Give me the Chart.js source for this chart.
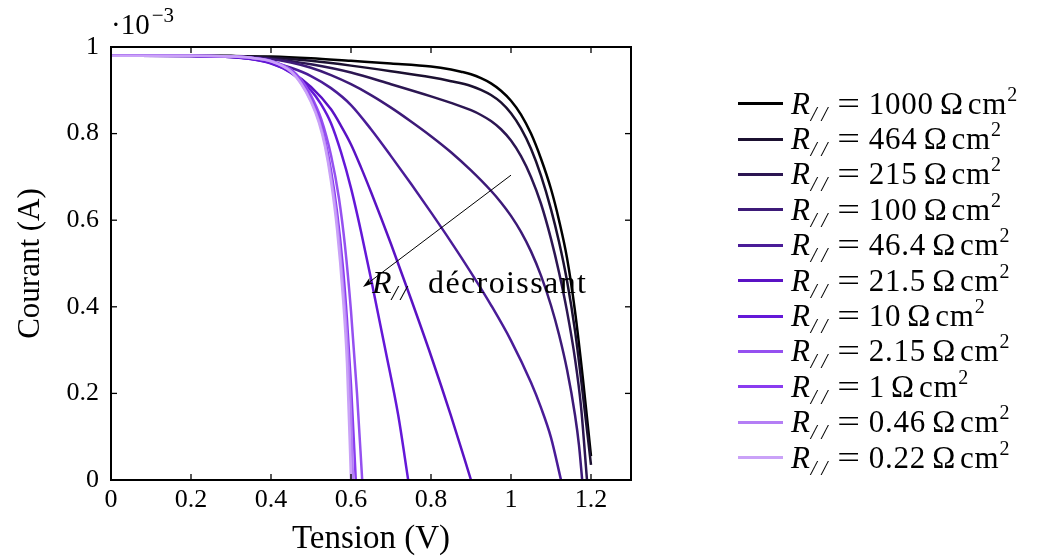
<!DOCTYPE html>
<html>
<head>
<meta charset="utf-8">
<script src="https://cdn.jsdelivr.net/npm/chart.js@4.4.1/dist/chart.umd.min.js"></script>
<style>
    html, body { margin: 0; padding: 0; background: #fff; }
    #wrap { position: relative; width: 1037px; height: 559px; overflow: hidden; }
    #chart { position: absolute; left: 0; top: 0; }
    #legend { position: absolute; left: 738px; top: 86px; font-family: "Liberation Serif", serif; font-size: 31px; color: #000; }
    .item { display: flex; align-items: center; height: 35.4px; white-space: nowrap; }
    .sw { display: inline-block; width: 45px; height: 3px; margin-right: 8px; }
    .txt { letter-spacing: 0.8px; }
    .txt sub { font-size: 21px; font-style: italic; line-height: 0; vertical-align: -7px; letter-spacing: 5px; }
    .txt sup { font-size: 20px; line-height: 0; vertical-align: 13px; }
    .eq { margin: 0 10px 0 8px; display: inline-block; transform: scaleX(1.3); }
    .u { margin: 0 4px 0 6px; }
</style>
</head>
<body>
<div id="wrap">
    <canvas id="chart" width="1037" height="559"></canvas>
    <div id="legend"></div>
</div>
<script>
// R// values (Ω cm²), one curve each
const resistanceLabels = ['1000', '464', '215', '100', '46.4', '21.5', '10', '2.15', '1', '0.46', '0.22'];
const lineColors = ['#000000', '#1b1030', '#2c1652', '#3d1a78', '#4a1c98', '#5a12c4', '#6418d8', '#9550f0', '#8a3cf0', '#b47ef5', '#caa2f8'];

// tension (V) / courant (x 1e-3 A)
const v1000 = [0, 0.2, 0.3, 0.4, 0.5, 0.6, 0.7, 0.8, 0.85, 0.875, 0.9, 0.925, 0.95, 0.975, 1.0, 1.025, 1.05, 1.075, 1.1, 1.12, 1.14, 1.16, 1.18, 1.2];
const i1000 = [0.98, 0.98, 0.979, 0.978, 0.974, 0.968, 0.962, 0.955, 0.948, 0.943, 0.937, 0.928, 0.916, 0.899, 0.876, 0.844, 0.8, 0.742, 0.672, 0.6, 0.513, 0.39, 0.232, 0.055];
const v464 = [0, 0.2, 0.3, 0.4, 0.5, 0.6, 0.7, 0.8, 0.85, 0.9, 0.925, 0.95, 0.975, 1.0, 1.025, 1.05, 1.075, 1.1, 1.12, 1.14, 1.16, 1.18, 1.2];
const i464 = [0.98, 0.98, 0.979, 0.976, 0.968, 0.957, 0.944, 0.93, 0.921, 0.91, 0.901, 0.889, 0.872, 0.847, 0.812, 0.765, 0.703, 0.625, 0.55, 0.46, 0.345, 0.195, 0.035];
const v215 = [0, 0.2, 0.3, 0.4, 0.5, 0.6, 0.7, 0.8, 0.85, 0.9, 0.925, 0.95, 0.975, 1.0, 1.025, 1.05, 1.075, 1.1, 1.12, 1.14, 1.16, 1.175, 1.19];
const i215 = [0.98, 0.98, 0.979, 0.973, 0.96, 0.941, 0.914, 0.886, 0.871, 0.854, 0.843, 0.829, 0.81, 0.784, 0.748, 0.7, 0.638, 0.557, 0.48, 0.39, 0.28, 0.17, 0];
const v100 = [0, 0.2, 0.3, 0.35, 0.4, 0.45, 0.5, 0.55, 0.6, 0.65, 0.7, 0.75, 0.8, 0.85, 0.9, 0.95, 0.975, 1.0, 1.025, 1.05, 1.075, 1.1, 1.12, 1.14, 1.16, 1.17, 1.178];
const i100 = [0.98, 0.98, 0.978, 0.976, 0.972, 0.964, 0.952, 0.935, 0.914, 0.889, 0.86, 0.828, 0.794, 0.757, 0.715, 0.668, 0.641, 0.61, 0.573, 0.528, 0.472, 0.403, 0.336, 0.255, 0.15, 0.08, 0];
const v46 = [0, 0.2, 0.3, 0.35, 0.4, 0.45, 0.5, 0.55, 0.6, 0.65, 0.7, 0.75, 0.8, 0.85, 0.9, 0.95, 1.0, 1.05, 1.075, 1.1, 1.125];
const i46 = [0.98, 0.979, 0.977, 0.973, 0.965, 0.952, 0.933, 0.905, 0.866, 0.81, 0.748, 0.684, 0.618, 0.55, 0.479, 0.404, 0.322, 0.225, 0.167, 0.098, 0];
const v21 = [0, 0.2, 0.3, 0.35, 0.4, 0.45, 0.5, 0.55, 0.575, 0.6, 0.625, 0.65, 0.7, 0.75, 0.8, 0.85, 0.9];
const i21 = [0.98, 0.979, 0.977, 0.972, 0.962, 0.942, 0.908, 0.856, 0.818, 0.775, 0.722, 0.665, 0.545, 0.418, 0.287, 0.148, 0];
const v10 = [0, 0.2, 0.3, 0.35, 0.4, 0.45, 0.5, 0.525, 0.55, 0.575, 0.6, 0.625, 0.65, 0.685, 0.718, 0.743];
const i10 = [0.98, 0.979, 0.977, 0.972, 0.963, 0.94, 0.9, 0.868, 0.824, 0.757, 0.674, 0.574, 0.465, 0.305, 0.15, 0];
const v2 = [0, 0.2, 0.3, 0.35, 0.4, 0.45, 0.475, 0.5, 0.525, 0.55, 0.57, 0.585, 0.6, 0.615, 0.628];
const i2 = [0.98, 0.98, 0.978, 0.975, 0.968, 0.948, 0.925, 0.888, 0.835, 0.75, 0.65, 0.54, 0.39, 0.2, 0];
const v1 = [0, 0.2, 0.3, 0.35, 0.4, 0.45, 0.475, 0.5, 0.52, 0.535, 0.55, 0.565, 0.58, 0.59, 0.6, 0.612];
const i1 = [0.98, 0.98, 0.978, 0.975, 0.968, 0.946, 0.92, 0.88, 0.836, 0.786, 0.715, 0.62, 0.49, 0.37, 0.22, 0];
const v046 = [0, 0.2, 0.3, 0.35, 0.4, 0.45, 0.475, 0.5, 0.52, 0.535, 0.55, 0.565, 0.58, 0.59, 0.6, 0.605];
const i046 = [0.98, 0.98, 0.978, 0.975, 0.967, 0.944, 0.917, 0.876, 0.83, 0.778, 0.7, 0.6, 0.45, 0.33, 0.15, 0];
const v022 = [0, 0.2, 0.3, 0.35, 0.4, 0.45, 0.475, 0.5, 0.52, 0.535, 0.55, 0.565, 0.58, 0.59, 0.6];
const i022 = [0.98, 0.98, 0.978, 0.975, 0.967, 0.943, 0.915, 0.873, 0.825, 0.77, 0.69, 0.58, 0.42, 0.27, 0];

const xTicks = [0, 0.2, 0.4, 0.6, 0.8, 1, 1.2];
const yTicks = [0, 0.2, 0.4, 0.6, 0.8, 1];

const seriesV = [v1000, v464, v215, v100, v46, v21, v10, v2, v1, v046, v022];
const seriesI = [i1000, i464, i215, i100, i46, i21, i10, i2, i1, i046, i022];

const serif = '"Liberation Serif", "Times New Roman", serif';
const fmt = v => String(Math.round(v * 10) / 10);

const datasets = resistanceLabels.map((r, k) => ({
    label: r,
    data: seriesV[k].map((v, j) => ({ x: v, y: seriesI[k][j] })),
    borderColor: lineColors[k],
    borderWidth: 2.5,
    pointRadius: 0,
    fill: false,
    cubicInterpolationMode: 'monotone',
    order: resistanceLabels.length - k
}));

// box, inner ticks, exponent and the arrow annotation
const framePlugin = {
    id: 'frame',
    afterDatasetsDraw(chart) {
        const { ctx, chartArea: a, scales: { x, y } } = chart;
        const seg = (x1, y1, x2, y2) => { ctx.beginPath(); ctx.moveTo(x1, y1); ctx.lineTo(x2, y2); ctx.stroke(); };
        ctx.save();
        ctx.strokeStyle = '#000';
        ctx.lineWidth = 1.3;
        xTicks.forEach(v => {
            const px = x.getPixelForValue(v);
            seg(px, a.bottom, px, a.bottom - 6);
            seg(px, a.top, px, a.top + 6);
        });
        yTicks.forEach(v => {
            const py = y.getPixelForValue(v);
            seg(a.left, py, a.left + 6, py);
            seg(a.right, py, a.right - 6, py);
        });
        ctx.lineWidth = 2;
        ctx.strokeRect(a.left, a.top, a.right - a.left, a.bottom - a.top);

        // ·10^-3
        ctx.fillStyle = '#000';
        ctx.textBaseline = 'alphabetic';
        ctx.font = '29px ' + serif;
        ctx.fillText('\u00b710', a.left, 34);
        const w = ctx.measureText('\u00b710').width;
        ctx.font = '21px ' + serif;
        ctx.fillText('\u22123', a.left + 2 + w, 22);

        // arrow
        const x0 = x.getPixelForValue(1.0), y0 = y.getPixelForValue(0.704);
        const x1 = x.getPixelForValue(0.63), y1 = y.getPixelForValue(0.446);
        ctx.lineWidth = 1;
        seg(x0, y0, x1 + 4, y1 - 3);
        const ang = Math.atan2(y1 - y0, x1 - x0);
        ctx.beginPath();
        ctx.moveTo(x1, y1);
        ctx.lineTo(x1 - 11 * Math.cos(ang - 0.3), y1 - 11 * Math.sin(ang - 0.3));
        ctx.lineTo(x1 - 8 * Math.cos(ang), y1 - 8 * Math.sin(ang));
        ctx.lineTo(x1 - 11 * Math.cos(ang + 0.3), y1 - 11 * Math.sin(ang + 0.3));
        ctx.closePath();
        ctx.fill();

        // label
        let tx = x.getPixelForValue(0.6525);
        const ty = y.getPixelForValue(0.432);
        ctx.font = 'italic 32px ' + serif;
        ctx.fillText('R', tx, ty);
        tx += ctx.measureText('R').width;
        ctx.font = 'italic 22px ' + serif;
        ctx.fillText('/', tx, ty + 7);
        ctx.fillText('/', tx + 9, ty + 7);
        ctx.font = '32px ' + serif;
        ctx.letterSpacing = '1.4px';
        ctx.fillText('d\u00e9croissant', x.getPixelForValue(0.7925), ty);
        ctx.restore();
    }
};

const ctx = document.getElementById('chart').getContext('2d');
const chart = new Chart(ctx, {
    type: 'line',
    data: { datasets: datasets },
    options: {
        responsive: false,
        animation: false,
        layout: { padding: { top: 47, right: 406, left: 0, bottom: 0 } },
        plugins: {
            legend: { display: false },
            tooltip: { enabled: false }
        },
        scales: {
            x: {
                type: 'linear',
                min: 0,
                max: 1.3,
                afterBuildTicks: scale => { scale.ticks = xTicks.map(v => ({ value: v })); },
                afterFit: scale => { scale.height = 79; },
                grid: { display: false, drawTicks: false },
                border: { display: false },
                ticks: { color: '#000', padding: 5, maxRotation: 0, font: { family: serif, size: 26 }, callback: fmt },
                title: { display: true, text: 'Tension (V)', color: '#000', padding: { top: 0, bottom: 0 }, font: { family: serif, size: 33 } }
            },
            y: {
                type: 'linear',
                min: 0,
                max: 1,
                afterBuildTicks: scale => { scale.ticks = yTicks.map(v => ({ value: v })); },
                afterFit: scale => { scale.width = 111; },
                grid: { display: false, drawTicks: false },
                border: { display: false },
                ticks: { color: '#000', padding: 12, font: { family: serif, size: 26 }, callback: fmt },
                title: { display: true, text: 'Courant (A)', color: '#000', padding: { top: 12, bottom: 0 }, font: { family: serif, size: 31 } }
            }
        }
    },
    plugins: [framePlugin]
});

// legend built from the datasets
const legend = document.getElementById('legend');
chart.data.datasets.forEach(ds => {
    const item = document.createElement('div');
    item.className = 'item';
    item.innerHTML = '<span class="sw" style="background:' + ds.borderColor + '"></span>' +
        '<span class="txt"><i>R</i><sub>//</sub><span class="eq">=</span>' + ds.label +
        '<span class="u">\u03a9</span>cm<sup>2</sup></span>';
    legend.appendChild(item);
});
</script>
</body>
</html>
